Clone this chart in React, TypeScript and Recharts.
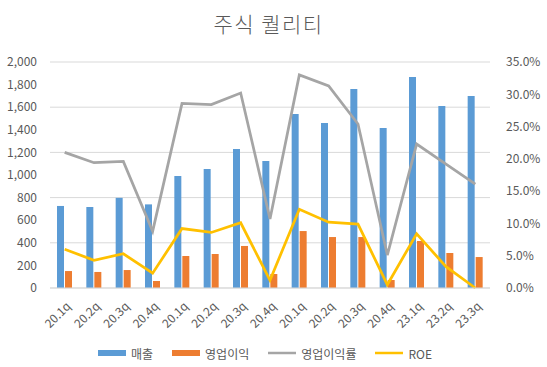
import React from "react";
import { ComposedChart, Bar, Line, XAxis, YAxis, CartesianGrid, Legend } from "recharts";

const categories = ["20.1q","20.2q","20.3q","20.4q","20.1q","20.2q","20.3q","20.4q","20.1q","20.2q","20.3q","20.4q","23.1q","23.2q","23.3q"];
const sales = [726, 717, 798, 740, 991, 1053, 1230, 1124, 1540, 1460, 1761, 1416, 1867, 1611, 1699];
const opProfit = [150, 142, 159, 62, 283, 301, 372, 124, 504, 451, 451, 71, 416, 310, 274];
const opMargin = [21.0, 19.4, 19.6, 8.8, 28.6, 28.4, 30.2, 10.7, 33.0, 31.3, 25.4, 5.1, 22.3, 19.2, 16.1];
const roe = [6.0, 4.3, 5.3, 2.3, 9.2, 8.6, 10.1, 1.2, 12.2, 10.2, 9.9, 0.5, 8.4, 3.3, 0.0];
const leftTicks = [0, 200, 400, 600, 800, 1000, 1200, 1400, 1600, 1800, 2000];
const rightTicks = [0, 5, 10, 15, 20, 25, 30, 35];

const data = categories.map((c, i) => ({
  name: c,
  sales: sales[i],
  op: opProfit[i],
  margin: opMargin[i],
  roe: roe[i],
}));

const TXT = "#595959";
const FONT = "'Noto Sans CJK KR', 'Noto Sans', sans-serif";

const XTick = (props: any) => {
  const { x, y, payload } = props;
  return (
    <g transform={`translate(${x + 4},${y + 8}) rotate(-45)`}>
      <text x={0} y={0} dy="0.35em" textAnchor="end" fill={TXT} fontSize={12} fontFamily={FONT}>
        {payload.value}
      </text>
    </g>
  );
};

const legendItems = [
  { label: "매출", color: "#5B9BD5", type: "rect" },
  { label: "영업이익", color: "#ED7D31", type: "rect" },
  { label: "영업이익률", color: "#A5A5A5", type: "line" },
  { label: "ROE", color: "#FFC000", type: "line" },
];

const LegendContent = () => (
  <div style={{ height: 28, display: "flex", justifyContent: "center", alignItems: "center", fontFamily: FONT, fontSize: 12, color: TXT }}>
    {legendItems.map((it) => (
      <div key={it.label} style={{ display: "flex", alignItems: "center", marginRight: 18 }}>
        <svg width={30} height={10} style={{ marginRight: 4 }}>
          {it.type === "rect" ? (
            <rect x={1} y={2} width={28} height={6} fill={it.color} />
          ) : (
            <line x1={1} y1={5} x2={29} y2={5} stroke={it.color} strokeWidth={2.5} />
          )}
        </svg>
        <span>{it.label}</span>
      </div>
    ))}
  </div>
);

export default function App() {
  return (
    <div style={{ position: "absolute", left: 0, top: 0, width: 547, height: 367, background: "#fff" }}>
      <div style={{ position: "absolute", left: -5, top: 8, width: 547, textAlign: "center", fontFamily: FONT, fontSize: 21, fontWeight: 300, letterSpacing: 1.5, color: TXT, lineHeight: "30px" }}>
        주식 퀄리티
      </div>
      <ComposedChart
        width={547}
        height={367}
        data={data}
        margin={{ top: 62, right: 0, left: 0, bottom: 0 }}
        barSize={7}
        barGap={1}
      >
        <CartesianGrid vertical={false} stroke="#D9D9D9" yAxisId="left" />
        <XAxis
          dataKey="name"
          height={51}
          interval={0}
          tick={<XTick />}
          tickLine={false}
          axisLine={{ stroke: "#D9D9D9" }}
        />
        <YAxis
          yAxisId="left"
          width={50}
          domain={[0, 2000]}
          ticks={leftTicks}
          axisLine={false}
          tickLine={false}
          tickMargin={7}
          tick={{ fill: TXT, fontSize: 12, fontFamily: FONT }}
          tickFormatter={(v: number) => v.toLocaleString("en-US")}
        />
        <YAxis
          yAxisId="right"
          orientation="right"
          width={57}
          domain={[0, 35]}
          ticks={rightTicks}
          axisLine={false}
          tickLine={false}
          tickMargin={10}
          tick={{ fill: TXT, fontSize: 12, fontFamily: FONT }}
          tickFormatter={(v: number) => `${v.toFixed(1)}%`}
        />
        <Legend verticalAlign="bottom" content={<LegendContent />} />
        <Bar yAxisId="left" dataKey="sales" name="매출" fill="#5B9BD5" isAnimationActive={false} />
        <Bar yAxisId="left" dataKey="op" name="영업이익" fill="#ED7D31" isAnimationActive={false} />
        <Line yAxisId="right" dataKey="margin" name="영업이익률" stroke="#A5A5A5" strokeWidth={2.75} dot={false} isAnimationActive={false} />
        <Line yAxisId="right" dataKey="roe" name="ROE" stroke="#FFC000" strokeWidth={2.75} dot={false} isAnimationActive={false} />
      </ComposedChart>
    </div>
  );
}
